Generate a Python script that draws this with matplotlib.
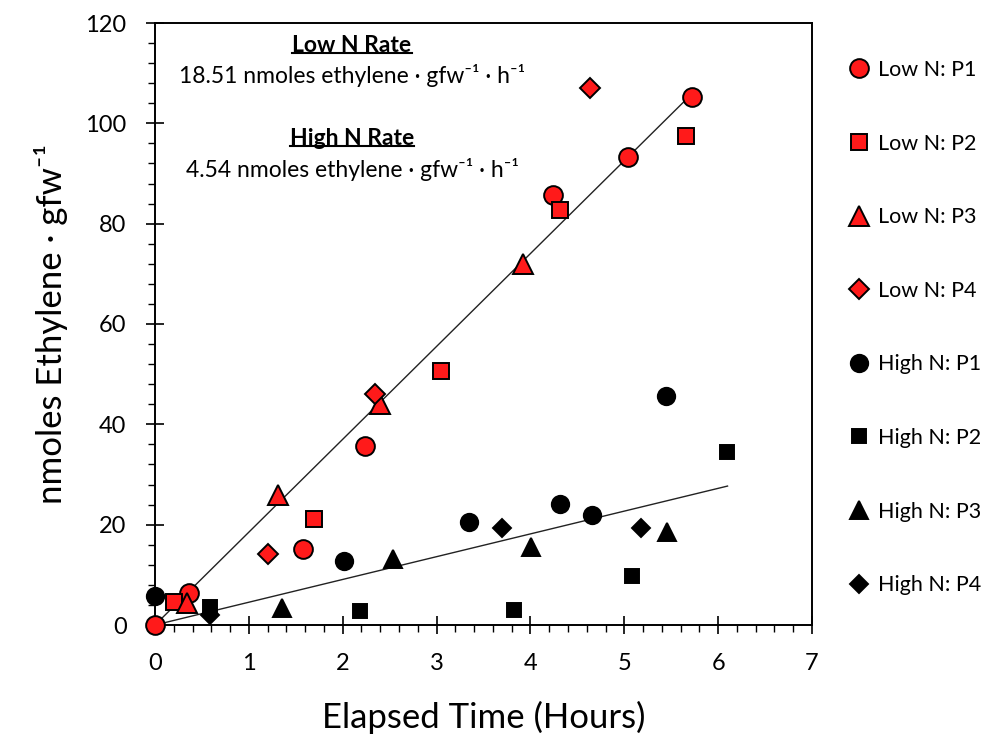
import numpy as np
import matplotlib
matplotlib.use("Agg")
import matplotlib.pyplot as plt
from matplotlib.ticker import MultipleLocator
from matplotlib.lines import Line2D

plt.rcParams['font.family'] = ['Lato', 'DejaVu Sans']

# Low N series (red)
low_p1_x = [0.0, 0.36, 1.58, 2.24, 4.24, 5.04, 5.72]
low_p1_y = [0.0, 6.3, 15.1, 35.7, 85.7, 93.2, 105.3]
low_p2_x = [0.20, 1.69, 3.05, 4.32, 5.66]
low_p2_y = [4.6, 21.2, 50.7, 82.7, 97.5]
low_p3_x = [0.34, 1.31, 2.40, 3.92]
low_p3_y = [4.3, 26.0, 44.0, 72.0]
low_p4_x = [1.20, 2.34, 4.63]
low_p4_y = [14.2, 46.0, 107.0]

# High N series (black)
high_p1_x = [0.0, 2.01, 3.35, 4.31, 4.66, 5.44]
high_p1_y = [5.8, 12.8, 20.6, 24.1, 21.9, 45.6]
high_p2_x = [0.585, 2.18, 3.83, 5.08, 6.09]
high_p2_y = [3.6, 2.7, 3.0, 9.8, 34.4]
high_p3_x = [1.35, 2.54, 4.01, 5.46]
high_p3_y = [3.3, 13.2, 15.6, 18.6]
high_p4_x = [0.585, 3.70, 5.18]
high_p4_y = [2.0, 19.3, 19.3]

# fitted rates (nmoles / gfw / h) and line extents
low_rate, high_rate = 18.51, 4.54
low_fit_x = np.array([0.0, 5.72])
high_fit_x = np.array([0.0, 6.10])

fig = plt.figure(figsize=(9.95, 7.35), dpi=100)
ax = fig.add_axes([155 / 995, 1 - 625 / 735, 657 / 995, 602 / 735])

ax.plot(low_fit_x, low_rate * low_fit_x, color='#222222', lw=1.0, zorder=1)
ax.plot(high_fit_x, high_rate * high_fit_x, color='#222222', lw=1.0, zorder=1)

red = '#ff1a1a'
mew = 1.4
series = [
    (low_p1_x, low_p1_y, 'o', red, 13.5, 'Low N: P1'),
    (low_p2_x, low_p2_y, 's', red, 12.0, 'Low N: P2'),
    (low_p3_x, low_p3_y, '^', red, 15.0, 'Low N: P3'),
    (low_p4_x, low_p4_y, 'D', red, 10.0, 'Low N: P4'),
    (high_p1_x, high_p1_y, 'o', 'black', 12.5, 'High N: P1'),
    (high_p2_x, high_p2_y, 's', 'black', 10.5, 'High N: P2'),
    (high_p3_x, high_p3_y, '^', 'black', 13.5, 'High N: P3'),
    (high_p4_x, high_p4_y, 'D', 'black', 9.5, 'High N: P4'),
]
for x, y, m, c, ms, lab in series:
    ax.plot(x, y, linestyle='none', marker=m, markersize=ms, markerfacecolor=c,
            markeredgecolor='black', markeredgewidth=mew, label=lab, zorder=3,
            clip_on=False)

ax.set_xlim(0, 7)
ax.set_ylim(0, 120)
ax.xaxis.set_major_locator(MultipleLocator(1))
ax.xaxis.set_minor_locator(MultipleLocator(0.2))
ax.yaxis.set_major_locator(MultipleLocator(20))
ax.yaxis.set_minor_locator(MultipleLocator(4))
ax.tick_params(which='major', direction='inout', length=13, width=1.2,
               labelsize=17)
ax.tick_params(axis='y', which='major', pad=14)
ax.tick_params(axis='x', which='major', pad=14)
ax.tick_params(which='minor', direction='out', length=5, width=1.0)
for s in ax.spines.values():
    s.set_linewidth(1.4)

ax.set_xlabel('Elapsed Time (Hours)', fontsize=25)
ax.set_ylabel('nmoles Ethylene · gfw⁻¹', fontsize=25)
ax.xaxis.set_label_coords(0.5, -0.126)
ax.yaxis.set_label_coords(-0.133, 0.5)

# rate annotations
tx = (352 - 155) / 657
t1 = ax.text(tx, 0.963, 'Low N Rate', transform=ax.transAxes, ha='center', va='center',
             fontsize=16.5, fontweight='bold')
ax.text(tx, 0.913, '18.51 nmoles ethylene · gfw⁻¹ · h⁻¹', transform=ax.transAxes,
        ha='center', va='center', fontsize=16.5)
t2 = ax.text(tx, 0.808, 'High N Rate', transform=ax.transAxes, ha='center', va='center',
             fontsize=16.5, fontweight='bold')
ax.text(tx, 0.756, '4.54 nmoles ethylene · gfw⁻¹ · h⁻¹', transform=ax.transAxes,
        ha='center', va='center', fontsize=16.5)

leg = ax.legend(loc='upper left', bbox_to_anchor=(848 / 995, 1 - 60 / 735),
                bbox_transform=fig.transFigure, frameon=False, fontsize=15.5,
                handlelength=1.0, handletextpad=0.4, labelspacing=2.49,
                borderaxespad=0, borderpad=0)

# underline the bold headings
fig.canvas.draw()
r = fig.canvas.get_renderer()
inv = fig.transFigure.inverted()
for t in (t1, t2):
    bb = t.get_window_extent(r)
    (x0, y0), (x1, y1) = inv.transform([(bb.x0, bb.y0 + 3), (bb.x1, bb.y0 + 3)])
    fig.add_artist(Line2D([x0, x1], [y0, y1], color='black', lw=1.5))

fig.savefig('out.png', dpi=100)
